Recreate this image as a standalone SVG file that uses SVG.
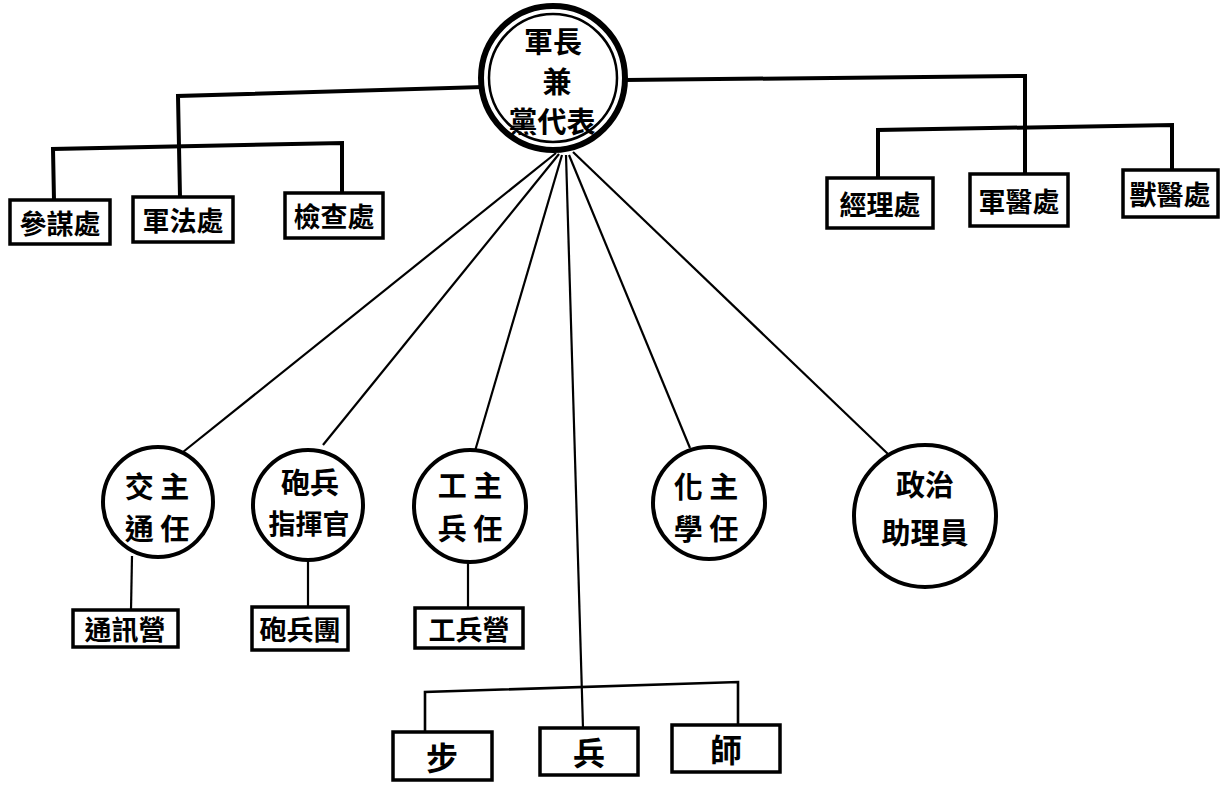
<svg xmlns="http://www.w3.org/2000/svg" width="1223" height="787" viewBox="0 0 1223 787">
<style>
  .box { fill: #fff; stroke: #000; stroke-width: 3.5; }
  .circ { fill: #fff; stroke: #000; stroke-width: 4; }
  .thick { fill: none; stroke: #000; stroke-width: 4; stroke-linecap: square; stroke-linejoin: miter; }
  .thin { fill: none; stroke: #000; stroke-width: 2.2; }
  .t { font-family: "Noto Sans CJK TC", "Noto Sans CJK SC", sans-serif; font-weight: bold; fill: #000; text-anchor: middle; dominant-baseline: central; }
  .tb { font-size: 27px; }
  .tc { font-size: 29px; }
</style>
<rect width="1223" height="787" fill="#fff"/>
<g id="connectors">
  <polyline class="thick" points="482,87 178,96 180,197"/>
  <polyline class="thick" points="54,200 53,149 342,143 342,193"/>
  <polyline class="thick" points="626,80 1025,76 1025,174"/>
  <polyline class="thick" points="878,178 878,130 1172,125 1172,170"/>
  <line class="thin" x1="556" y1="153" x2="183" y2="452"/>
  <line class="thin" x1="559" y1="154" x2="323" y2="445"/>
  <line class="thin" x1="562" y1="155" x2="475" y2="451"/>
  <line class="thin" x1="566" y1="155" x2="583" y2="728"/>
  <line class="thin" x1="569" y1="155" x2="690" y2="448"/>
  <line class="thin" x1="573" y1="152" x2="888" y2="454"/>
  <line class="thin" x1="132" y1="556" x2="131" y2="610"/>
  <line class="thin" x1="308" y1="560" x2="308" y2="607"/>
  <line class="thin" x1="468" y1="561" x2="468" y2="608"/>
  <polyline class="thin" points="425,732 425,692 738,682 738,725" style="stroke-width:2.6"/>
</g>
<g id="hq">
  <circle cx="553" cy="78" r="72" fill="#fff" stroke="#000" stroke-width="6"/>
  <circle cx="553" cy="78" r="64" fill="none" stroke="#000" stroke-width="2.5"/>
  <text class="t" x="553" y="40" style="font-size:29px">軍長</text>
  <text class="t" x="557" y="80" style="font-size:29px">兼</text>
  <text class="t" x="552" y="120" style="font-size:29px">黨代表</text>
</g>
<g id="canmou"><rect class="box" x="10" y="200" width="100" height="44"/><text class="t tb" x="60" y="222">參謀處</text></g>
<g id="junfa"><rect class="box" x="133" y="197" width="100" height="45"/><text class="t tb" x="183" y="219">軍法處</text></g>
<g id="jiancha"><rect class="box" x="285" y="193" width="98" height="45"/><text class="t tb" x="334" y="215">檢查處</text></g>
<g id="jingli"><rect class="box" x="827" y="178" width="106" height="50"/><text class="t tb" x="880" y="203">經理處</text></g>
<g id="junyi"><rect class="box" x="970" y="174" width="98" height="52"/><text class="t tb" x="1019" y="200">軍醫處</text></g>
<g id="shouyi"><rect class="box" x="1123" y="170" width="95" height="47"/><text class="t tb" x="1170" y="193">獸醫處</text></g>
<g id="jiaotong"><circle class="circ" cx="158" cy="502" r="55"/><text class="t tc" x="157" y="485">交 主</text><text class="t tc" x="157" y="527">通 任</text></g>
<g id="paobing"><circle class="circ" cx="308" cy="505" r="55"/><text class="t tc" x="310" y="481">砲兵</text><text class="t" x="309" y="522" style="font-size:27px">指揮官</text></g>
<g id="gongbing"><circle class="circ" cx="470" cy="506" r="56"/><text class="t tc" x="470" y="484">工 主</text><text class="t tc" x="470" y="527">兵 任</text></g>
<g id="huaxue"><circle class="circ" cx="709" cy="503" r="56"/><text class="t tc" x="706" y="485">化 主</text><text class="t tc" x="706" y="527">學 任</text></g>
<g id="zhengzhi"><circle class="circ" cx="925" cy="516" r="71"/><text class="t tc" x="925" y="483">政治</text><text class="t tc" x="925" y="531">助理員</text></g>
<g id="tongxun"><rect class="box" x="73" y="610" width="105" height="37"/><text class="t tb" x="125" y="628">通訊營</text></g>
<g id="paobingtuan"><rect class="box" x="252" y="607" width="96" height="43"/><text class="t tb" x="300" y="628">砲兵團</text></g>
<g id="gongbingying"><rect class="box" x="415" y="608" width="108" height="40"/><text class="t tb" x="469" y="628">工兵營</text></g>
<g id="bu"><rect class="box" x="393" y="732" width="99" height="48"/><text class="t" x="442" y="756" style="font-size:32px">步</text></g>
<g id="bing"><rect class="box" x="540" y="728" width="98" height="47"/><text class="t" x="589" y="751" style="font-size:32px">兵</text></g>
<g id="shi"><rect class="box" x="672" y="725" width="108" height="47"/><text class="t" x="726" y="748" style="font-size:32px">師</text></g>
</svg>
